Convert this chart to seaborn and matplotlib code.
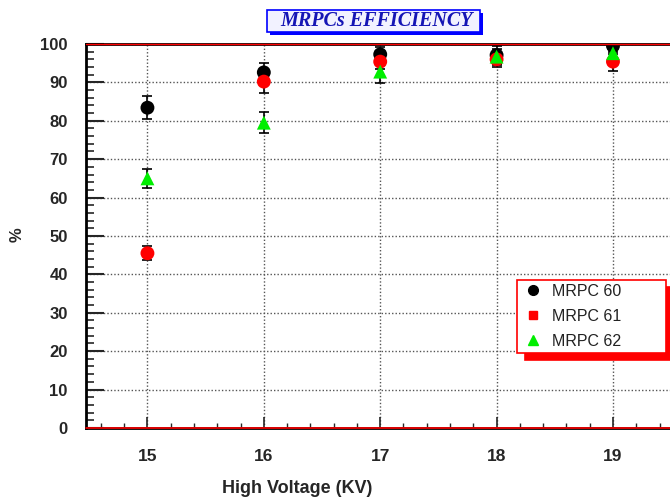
import pandas as pd
import seaborn as sns
import matplotlib.pyplot as plt
from matplotlib.lines import Line2D
from matplotlib.patches import Rectangle
from matplotlib.ticker import MultipleLocator

# values
voltage = [15, 16, 17, 18, 19]
mrpc60 = [83.4, 92.6, 97.3, 97.1, 99.5]
mrpc61 = [45.5, 90.2, 95.4, 96.0, 95.4]
mrpc62 = [65.0, 79.5, 92.8, 96.7, 97.6]
err60 = [3.0, 2.5, 2.0, 2.5, 2.0]
err61 = [1.8, 3.0, 2.0, 2.0, 2.5]
err62 = [2.5, 2.7, 3.0, 2.0, 2.0]
labels = ['MRPC 60', 'MRPC 61', 'MRPC 62']
colors = ['black', 'red', '#00ee00']

df = pd.concat([
    pd.DataFrame({'hv': voltage, 'eff': vals, 'err': errs, 'mrpc': lab})
    for vals, errs, lab in zip([mrpc60, mrpc61, mrpc62], [err60, err61, err62], labels)
], ignore_index=True)

sns.set_style('white')
plt.rcParams['font.family'] = ['Liberation Sans', 'DejaVu Sans']

fig = plt.figure(figsize=(6.7, 4.97), dpi=100)
ax = fig.add_axes([0.128, 0.139, 0.872, 0.7725])

# error bars first, all black like the original
ax.errorbar(df['hv'], df['eff'], yerr=df['err'], fmt='none', ecolor='black',
            elinewidth=1.2, capsize=3.5, capthick=1.2, zorder=3)

sns.scatterplot(data=df, x='hv', y='eff', hue='mrpc', style='mrpc',
                palette=dict(zip(labels, colors)),
                markers={'MRPC 60': 'o', 'MRPC 61': 'o', 'MRPC 62': '^'},
                s=100, edgecolor='none', legend=False, zorder=4, ax=ax)

ax.set_xlim(14.47, 19.49)
ax.set_ylim(0, 100)
ax.xaxis.set_major_locator(MultipleLocator(1))
ax.xaxis.set_minor_locator(MultipleLocator(0.2))
ax.yaxis.set_major_locator(MultipleLocator(10))
ax.yaxis.set_minor_locator(MultipleLocator(2))
ax.tick_params(axis='y', which='major', direction='in', length=13, width=1.5,
               labelsize=12, pad=13, left=True)
ax.tick_params(axis='y', which='minor', direction='in', length=5.5, width=1.2, left=True)
ax.tick_params(axis='x', which='major', direction='in', length=8, width=1.2,
               labelsize=12.5, pad=15, bottom=True)
ax.tick_params(axis='x', which='minor', direction='in', length=3.6, width=1.0, bottom=True)
for t in ax.get_xticklabels() + ax.get_yticklabels():
    t.set_fontweight('bold')

ax.grid(True, which='major', linestyle=(0, (1, 1.5)), color='#555555', linewidth=1)
ax.set_axisbelow(True)

for side in ['left', 'top', 'bottom']:
    ax.spines[side].set_color('black')
    ax.spines[side].set_linewidth(2)
ax.spines['right'].set_visible(False)
ax.axhline(100, color='red', lw=1, zorder=5, clip_on=False)
ax.axhline(0, color='red', lw=1.2, zorder=5, clip_on=False)

ax.set_xlabel('High Voltage (KV)', fontsize=13, fontweight='bold')
ax.set_ylabel('%', fontsize=12, fontweight='bold')
ax.xaxis.set_label_coords(0.362, -0.135)
ax.yaxis.set_label_coords(-0.105, 0.503)

handles = [Line2D([], [], ls='none', marker=m, color=c, markersize=ms)
           for m, c, ms in zip(['o', 's', '^'], colors, [7, 6, 7])]
leg = ax.legend(handles, labels, loc='upper left', mode='expand',
                bbox_to_anchor=(517 / 670, 144 / 497, 149 / 670, 73 / 497),
                bbox_transform=fig.transFigure, frameon=True, fancybox=False,
                fontsize=11.5, handlelength=1.5, handletextpad=0.45, borderpad=0.25,
                borderaxespad=0, labelspacing=0.62,
                shadow={'color': 'red', 'alpha': 1, 'ox': 6, 'oy': -5})
leg.get_frame().set_edgecolor('red')
leg.get_frame().set_linewidth(1.2)
for t in leg.get_texts():
    t.set_color('#222222')

# title box with blue drop shadow
fig.patches.append(Rectangle((270 / 670, 1 - 35 / 497), 213 / 670, 22 / 497,
                             transform=fig.transFigure, fc='blue', ec='none', zorder=1))
fig.patches.append(Rectangle((267 / 670, 1 - 32 / 497), 213 / 670, 22 / 497,
                             transform=fig.transFigure, fc='#f2f2ff', ec='blue',
                             lw=1.2, zorder=2))
fig.text(377 / 670, 1 - 21 / 497, 'MRPCs EFFICIENCY', ha='center', va='center',
         family=['Liberation Serif', 'DejaVu Serif'], fontstyle='italic',
         fontweight='bold', fontsize=14.5, color='#1515b5', zorder=3)

fig.savefig('out.png', dpi=100)
